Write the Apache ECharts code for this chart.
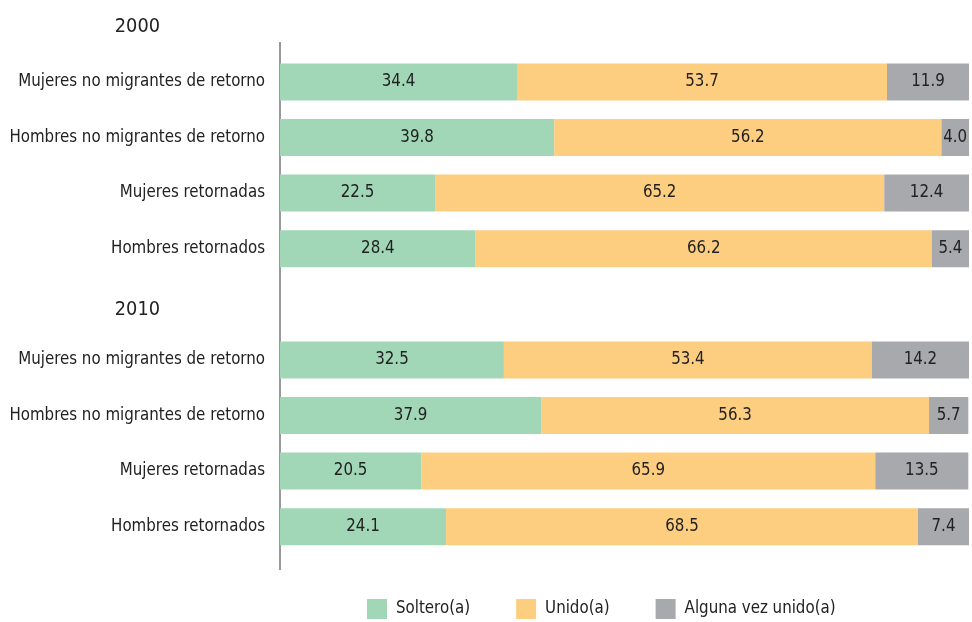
<!DOCTYPE html>
<html><head><meta charset="utf-8">
<script src="https://cdn.jsdelivr.net/npm/echarts@6/dist/echarts.min.js"></script>
<style>html,body{margin:0;padding:0;background:#fff}#c{width:972px;height:622px}</style>
</head><body><div id="c"></div>
<script>
const years = ['2000', '2010'];
const groups = ['Mujeres no migrantes de retorno', 'Hombres no migrantes de retorno', 'Mujeres retornadas', 'Hombres retornados'];
const seriesNames = ['Soltero(a)', 'Unido(a)', 'Alguna vez unido(a)'];
const soltero2000 = [34.4, 39.8, 22.5, 28.4];
const unido2000 = [53.7, 56.2, 65.2, 66.2];
const alguna2000 = [11.9, 4.0, 12.4, 5.4];
const soltero2010 = [32.5, 37.9, 20.5, 24.1];
const unido2010 = [53.4, 56.3, 65.9, 68.5];
const alguna2010 = [14.2, 5.7, 13.5, 7.4];

const categories = [years[0], ...groups, years[1], ...groups];
const build = (a, b) => ['-', ...a, '-', ...b];
const colors = ['#a1d7b7', '#fdcd80', '#a8a9ad'];
const FONT = '"Liberation Sans Narrow", "DejaVu Sans Condensed", "Liberation Sans", sans-serif';
const data = [build(soltero2000, soltero2010), build(unido2000, unido2010), build(alguna2000, alguna2010)];

// pick a font size so the longest label is as wide as in the reference (~247px)
const mctx = document.createElement('canvas').getContext('2d');
mctx.font = '100px ' + FONT;
let fs = 100 * 247 / mctx.measureText(groups[0]).width;
fs = Math.max(15, Math.min(21, fs));

const chart = echarts.init(document.getElementById('c'), null, {renderer: 'canvas'});
chart.setOption({
  animation: false,
  textStyle: {fontFamily: FONT},
  grid: {left: 280, right: 3, top: -1.5, height: 556, containLabel: false, outerBoundsMode: 'none'},
  xAxis: {type: 'value', min: 0, max: 100, show: false},
  yAxis: {
    type: 'category', data: categories, inverse: true,
    axisLine: {show: false}, axisTick: {show: false},
    axisLabel: {
      margin: 15, fontSize: fs, color: '#222', fontFamily: FONT,
      formatter: (v, i) => years.includes(v) ? '{yr' + (i === 0 ? 0 : 1) + '|' + v + '}' : v,
      rich: {
        yr0: {fontSize: fs + 3, color: '#222', fontFamily: FONT, padding: [2, 105, 0, 0]},
        yr1: {fontSize: fs + 3, color: '#222', fontFamily: FONT, padding: [12, 105, 0, 0]}
      }
    }
  },
  legend: {
    top: 594, left: 362, itemWidth: 20, itemHeight: 20, itemGap: 46,
    icon: 'rect',
    textStyle: {fontSize: fs, color: '#222', fontFamily: FONT, padding: [0, 0, 0, 4]},
    data: seriesNames
  },
  series: seriesNames.map((n, i) => ({
    name: n, type: 'bar', stack: 'total', barWidth: 37,
    itemStyle: {color: colors[i]},
    label: {show: true, position: 'inside', fontSize: fs, color: '#222', fontFamily: FONT,
      formatter: p => p.value.toFixed(1)},
    data: data[i]
  })),
  graphic: [{type: 'line', shape: {x1: 280, y1: 42, x2: 280, y2: 570}, style: {stroke: '#999', lineWidth: 2}}]
});
</script></body></html>
